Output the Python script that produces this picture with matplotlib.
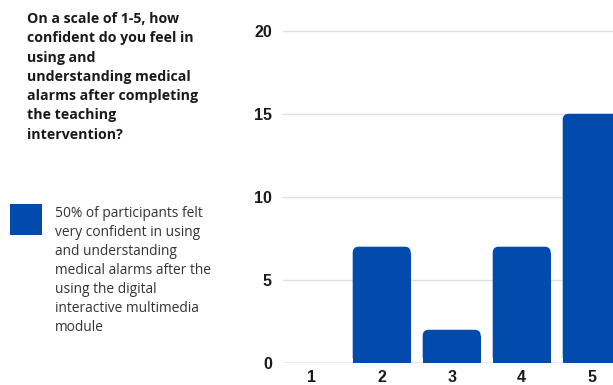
import matplotlib
matplotlib.use("Agg")
import matplotlib.pyplot as plt
from matplotlib.patches import FancyBboxPatch, Rectangle

categories = ["1", "2", "3", "4", "5"]
values = [0, 7, 2, 7, 15]
yticks = [0, 5, 10, 15, 20]
title_lines = ["On a scale of 1-5, how", "confident do you feel in", "using and",
               "understanding medical", "alarms after completing", "the teaching",
               "intervention?"]
note_lines = ["50% of participants felt", "very confident in using", "and understanding",
              "medical alarms after the", "using the digital",
              "interactive multimedia", "module"]

BLUE = "#024AAB"
W, H = 613, 385
fig = plt.figure(figsize=(W / 100, H / 100), dpi=100)
fig.patch.set_facecolor("white")

# axes geometry in pixels
ax_left, ax_right = 283, 613
ax_bottom_px = 363
ymax = 21
px_per_unit = (363 - 30.7) / 20
ax_top_px = ax_bottom_px - ymax * px_per_unit
ax = fig.add_axes([ax_left / W, 1 - ax_bottom_px / H, (ax_right - ax_left) / W,
                   (ax_bottom_px - ax_top_px) / H])

x = list(range(1, len(categories) + 1))
xmin = 1 - 28.7 / 70
xmax = 5 + (613 - 591.7) / 70
ax.set_xlim(xmin, xmax)
ax.set_ylim(0, ymax)

bw = 58 / 70
r_x = 6 / 70
r_y = 6 / px_per_unit
for xi, v in zip(x, values):
    if v <= 0:
        continue
    p = FancyBboxPatch((xi - bw / 2, 0), bw, v,
                       boxstyle=f"round,pad=0,rounding_size={r_x}",
                       mutation_aspect=r_y / r_x, facecolor=BLUE, edgecolor="none", zorder=3)
    ax.add_patch(p)
    ax.add_patch(Rectangle((xi - bw / 2, 0), bw, v - r_y, facecolor=BLUE,
                           edgecolor="none", zorder=3))

for s in ax.spines.values():
    s.set_visible(False)
ax.set_yticks(yticks)
ax.set_xticks(x)
ax.set_xticklabels(categories)
ax.tick_params(length=0)
ax.tick_params(axis="y", pad=8)
ax.tick_params(axis="x", pad=5)
for lab in ax.get_yticklabels() + ax.get_xticklabels():
    lab.set_fontfamily("Liberation Sans")
    lab.set_fontweight("bold")
    lab.set_fontsize(11.5)
    lab.set_color("#1a1a1a")
for t in yticks:
    ax.axhline(t, color="#999999" if t == 0 else "#e0e0e0", lw=1, zorder=1)

# left text
y0 = 12
for i, line in enumerate(title_lines):
    fig.text(27 / W, 1 - (y0 + i * 19.3) / H, line, ha="left", va="top",
             fontsize=10.2, fontweight="bold", family="Open Sans", color="#1a1a1a")

fig.patches.append(Rectangle((10 / W, 1 - 235 / H), 32 / W, 31 / H,
                             transform=fig.transFigure, facecolor=BLUE, edgecolor="none"))
y1 = 206
for i, line in enumerate(note_lines):
    fig.text(55 / W, 1 - (y1 + i * 19) / H, line, ha="left", va="top",
             fontsize=9.9, family="Open Sans", color="#333333")

fig.savefig("out.png", dpi=100)
